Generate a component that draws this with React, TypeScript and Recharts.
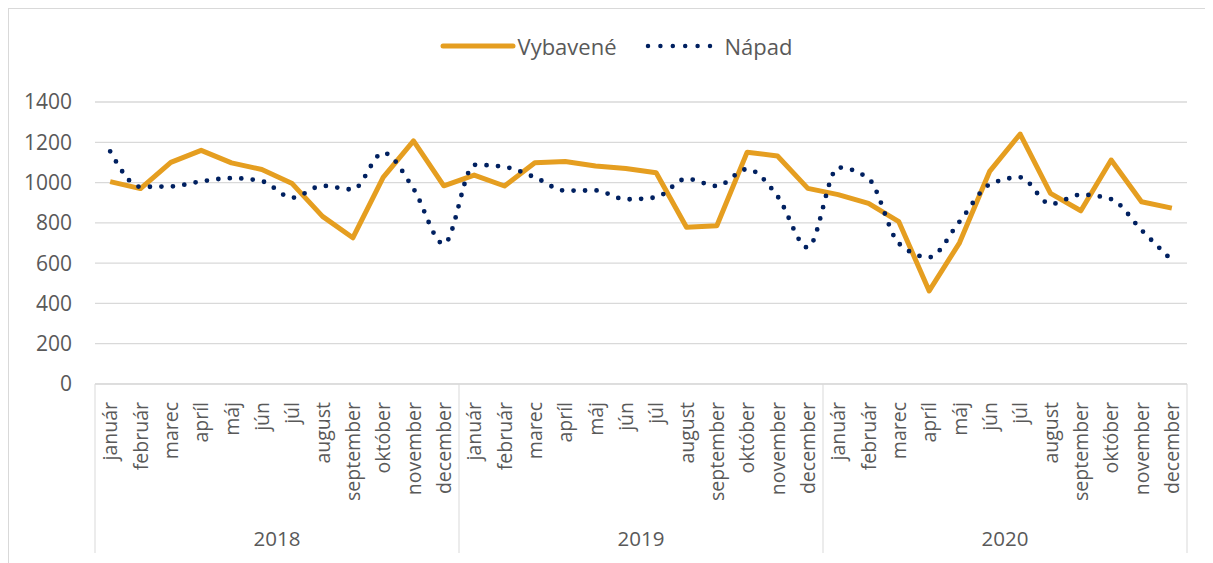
import { LineChart, Line, XAxis, YAxis, CartesianGrid } from "recharts";

const years = ["2018", "2019", "2020"];
const months = [
	"január",
	"február",
	"marec",
	"apríl",
	"máj",
	"jún",
	"júl",
	"august",
	"september",
	"október",
	"november",
	"december",
];

const vybavene = [
	1005, 970, 1100, 1160, 1098, 1065, 995, 832, 726, 1026, 1207, 984,
	1037, 983, 1098, 1105, 1082, 1070, 1049, 778, 786, 1151, 1132, 971,
	940, 897, 806, 462, 701, 1057, 1241, 946, 860, 1112, 905, 873,
];
const napad = [
	1155, 979, 981, 1006, 1022, 1007, 925, 984, 966, 1148, 969, 695,
	1088, 1078, 1026, 960, 961, 917, 927, 1019, 983, 1067, 932, 677,
	1075, 1020, 698, 629, 806, 991, 1026, 893, 940, 918, 764, 614,
];
const yTicks = [0, 200, 400, 600, 800, 1000, 1200, 1400];

const data = years.flatMap((year, yi) =>
	months.map((month, mi) => ({
		key: `${year}-${mi}`,
		month,
		year,
		vybavene: vybavene[yi * 12 + mi],
		napad: napad[yi * 12 + mi],
	})),
);

const W = 1214;
const H = 558;
const LEFT = 86;
const RIGHT = 36;
const CAT_W = (W - LEFT - RIGHT) / data.length;
const FONT = "'Open Sans', sans-serif";
const GREY = "#595959";
const ORANGE = "#E59E20";
const NAVY = "#002060";

function MonthTick(props: any) {
	const { x, y, index } = props;
	const row = data[index];
	const mi = index % 12;
	return (
		<g>
			<text
				x={x + 7}
				y={y + 18}
				transform={`rotate(-90, ${x + 7}, ${y + 18})`}
				textAnchor="end"
				fill={GREY}
				fontSize={19.5}
				fontFamily={FONT}
			>
				{row.month}
			</text>
			{mi === 0 && (
				<line x1={x - CAT_W / 2} x2={x - CAT_W / 2} y1={y} y2={y + 169} stroke="#d9d9d9" />
			)}
			{index === data.length - 1 && (
				<line x1={x + CAT_W / 2} x2={x + CAT_W / 2} y1={y} y2={y + 169} stroke="#d9d9d9" />
			)}
			{mi === 5 && (
				<text
					x={x + CAT_W / 2}
					y={y + 162}
					textAnchor="middle"
					fill={GREY}
					fontSize={20.5}
					fontFamily={FONT}
				>
					{row.year}
				</text>
			)}
		</g>
	);
}

function LegendBox() {
	return (
		<div
			style={{
				position: "absolute",
				top: 22,
				left: 0,
				width: W,
				display: "flex",
				justifyContent: "center",
				alignItems: "center",
				fontFamily: FONT,
				fontSize: 22,
				color: GREY,
			}}
		>
			<svg width={76} height={10}>
				<line x1={3} x2={73} y1={5} y2={5} stroke={ORANGE} strokeWidth={5} strokeLinecap="round" />
			</svg>
			<span style={{ marginLeft: 2 }}>Vybavené</span>
			<svg width={68} height={10} style={{ marginLeft: 28 }}>
				<line
					x1={3}
					x2={65}
					y1={5}
					y2={5}
					stroke={NAVY}
					strokeWidth={4.5}
					strokeLinecap="round"
					strokeDasharray="0 12.4"
				/>
			</svg>
			<span style={{ marginLeft: 12 }}>Nápad</span>
		</div>
	);
}

export default function App() {
	return (
		<div
			style={{
				position: "relative",
				width: W,
				height: H,
				border: "1px solid #d9d9d9",
				background: "#fff",
			}}
		>
			<style>{"html,body{overflow:hidden}"}</style>
			<LegendBox />
			<LineChart
				width={W}
				height={H}
				data={data}
				margin={{ top: 93, right: RIGHT, left: 0, bottom: 13 }}
			>
				<CartesianGrid vertical={false} stroke="#d9d9d9" strokeWidth={1.3} />
				<XAxis
					dataKey="key"
					interval={0}
					height={170}
					padding={{ left: CAT_W / 2, right: CAT_W / 2 }}
					tickSize={0}
					tickMargin={0}
					tick={<MonthTick />}
					axisLine={{ stroke: "#d9d9d9" }}
					tickLine={false}
				/>
				<YAxis
					width={LEFT}
					domain={[0, 1400]}
					ticks={yTicks}
					axisLine={false}
					tickLine={false}
					tickSize={0}
					tickMargin={23}
					tick={{ fill: GREY, fontSize: 21, fontFamily: FONT }}
				/>
				<Line
					type="linear"
					dataKey="vybavene"
					name="Vybavené"
					stroke={ORANGE}
					strokeWidth={5}
					strokeLinejoin="round"
					dot={false}
					activeDot={false}
					isAnimationActive={false}
				/>
				<Line
					type="monotone"
					dataKey="napad"
					name="Nápad"
					stroke={NAVY}
					strokeWidth={4.8}
					strokeLinecap="round"
					strokeDasharray="0 11.5"
					dot={false}
					activeDot={false}
					isAnimationActive={false}
				/>
			</LineChart>
		</div>
	);
}
